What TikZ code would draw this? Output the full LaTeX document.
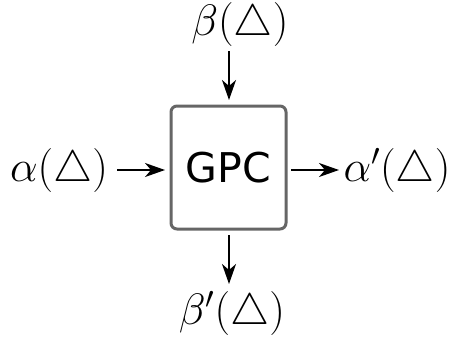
\RequirePackage{fix-cm}
\documentclass[tikz,border=0pt]{standalone}
\usepackage{fontspec}
\newfontfamily\gpcfont{DejaVu Sans}
\usetikzlibrary{arrows.meta}
\begin{document}
\begin{tikzpicture}[x=1pt,y=-1pt,
  lbl/.style={inner sep=0pt,font=\fontsize{44}{50}\selectfont},
  arr/.style={-{Stealth[length=20pt,width=14pt,inset=6pt]},line width=1.6pt}]
\useasboundingbox (0,0) rectangle (453,341);
\node[draw=black!60,line width=3pt,rounded corners=6pt,minimum width=115pt,minimum height=123pt,inner sep=0pt,
  font=\gpcfont\fontsize{41}{48}\selectfont] (gpc) at (228.5,167.5) {GPC};
\node[lbl] (a) at (59,170) {$\alpha(\triangle)$};
\node[lbl] (ap) at (397,170) {$\alpha'(\triangle)$};
\node[lbl] (b) at (240,24) {$\beta(\triangle)$};
\node[lbl] (bp) at (232,313) {$\beta'(\triangle)$};
\coordinate (a1) at (117,170);
\coordinate (a2) at (165,170);
\coordinate (r1) at (291,170);
\coordinate (r2) at (339,170);
\coordinate (t1) at (229,51);
\coordinate (t2) at (229,100);
\coordinate (d1) at (229,235);
\coordinate (d2) at (229,284);
\draw[arr] (a1) -- (a2);
\draw[arr] (r1) -- (r2);
\draw[arr] (t1) -- (t2);
\draw[arr] (d1) -- (d2);
\end{tikzpicture}
\end{document}
